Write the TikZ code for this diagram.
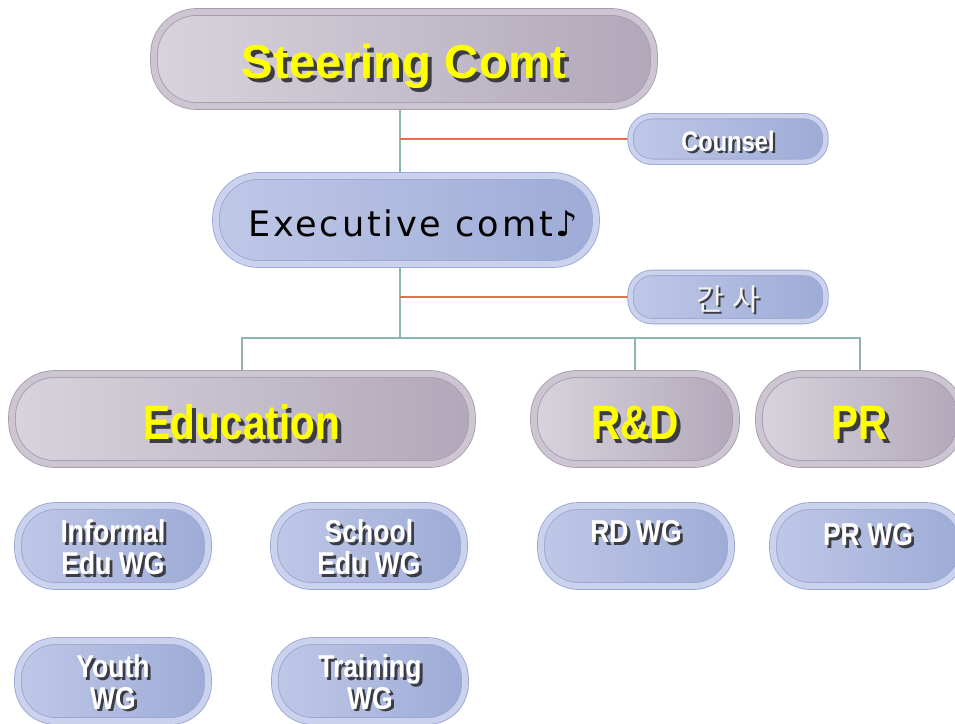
\documentclass[tikz,border=0pt]{standalone}
\usepackage{fontspec}
\setmainfont{Liberation Sans}
\newfontfamily\narrowfont[FakeStretch=0.84]{Liberation Sans}
\newfontfamily\execfont[LetterSpace=8]{DejaVu Sans}
\newfontfamily\krfont[LetterSpace=6]{Noto Sans CJK KR}
\usetikzlibrary{backgrounds}

\definecolor{graylt}{HTML}{D8D3DC}
\definecolor{graydk}{HTML}{B1A8B9}
\definecolor{grayrim}{HTML}{CDC6D2}
\definecolor{grayedge}{HTML}{A69DAE}
\definecolor{bluelt}{HTML}{BFC8E7}
\definecolor{bluedk}{HTML}{9DABD6}
\definecolor{bluerim}{HTML}{CAD2EE}
\definecolor{blueedge}{HTML}{9AA7D3}
\definecolor{tealline}{HTML}{8DB5B1}
\definecolor{redline}{HTML}{E0704F}
\definecolor{txtshadow}{HTML}{3C3C44}
\definecolor{titleyellow}{HTML}{FFFF00}

\newcommand{\shtxt}[2][1.6pt]{%
  \raisebox{-4pt}[\height][\depth]{\makebox[0pt][l]{\hspace{#1}\raisebox{-#1}{\color{txtshadow}\begin{tabular}{@{}c@{}}#2\end{tabular}}}%
  \begin{tabular}{@{}c@{}}#2\end{tabular}}}
\newcommand{\nudge}[2]{\raisebox{#1}[\height][\depth]{#2}}

\tikzset{
  grayunit/.style={rectangle, rounded corners=0.85cm, left color=graylt, right color=graydk,
    draw=grayedge, double=grayrim, double distance=3.4pt, line width=0.5pt,
    minimum height=1.8cm, text=titleyellow, font=\narrowfont\bfseries\fontsize{27.5}{30}\selectfont},
  blueunit/.style={rectangle, rounded corners=0.75cm, left color=bluelt, right color=bluedk,
    draw=blueedge, double=bluerim, double distance=3.4pt, line width=0.5pt,
    minimum width=3.8cm, minimum height=1.6cm, text=white,
    font=\narrowfont\bfseries\fontsize{18}{17.5}\selectfont},
  sideunit/.style={blueunit, rounded corners=0.43cm, double distance=2.6pt,
    minimum width=3.9cm, minimum height=0.86cm},
  branch/.style={draw=tealline, line width=0.9pt},
  staffline/.style={draw=redline, line width=0.9pt}
}

\begin{document}
\begin{tikzpicture}[x=0.02cm, y=-0.02cm]
\useasboundingbox (0,0) rectangle (955,723);

\node[grayunit, minimum width=10cm, minimum height=1.88cm,
  font=\bfseries\fontsize{27}{30}\selectfont] (steer) at (404,59) {\nudge{-2pt}{\shtxt[2.2pt]{Steering Comt}}};
\node[blueunit, minimum width=7.6cm, minimum height=1.76cm, rounded corners=0.85cm,
  text=black, font=\execfont\fontsize{20}{22}\selectfont] (exec) at (406,220) {\nudge{-2pt}{\hspace{8pt}Executive comt♪}};
\node[sideunit, font=\narrowfont\bfseries\fontsize{16}{18}\selectfont] (counsel) at (728,139) {\shtxt[1.3pt]{Counsel}};
\node[sideunit, text=white!95!black, font=\krfont\fontsize{17}{18}\selectfont] (gansa) at (728,297) {\shtxt[1.3pt]{간 사}};

\node[grayunit, minimum width=9.2cm] (edu) at (242,419) {\nudge{-3pt}{\shtxt[2.2pt]{Education}}};
\node[grayunit, minimum width=4.04cm] (rnd) at (635,419) {\nudge{-3pt}{\shtxt[2.2pt]{R\&D}}};
\node[grayunit, minimum width=4.04cm] (pr) at (860,419) {\nudge{-3pt}{\shtxt[2.2pt]{PR}}};

\node[blueunit] (informal) at (113,546) {\shtxt{Informal\\Edu WG}};
\node[blueunit] (school) at (369,546) {\shtxt{School\\Edu WG}};
\node[blueunit] (rdwg) at (636,546) {\shtxt{RD WG\\ \strut}};
\node[blueunit] (prwg) at (868,546) {\nudge{7pt}{\shtxt{PR WG}}};
\node[blueunit] (youth) at (113,681) {\shtxt{Youth\\WG}};
\node[blueunit] (training) at (370,681) {\shtxt{Training\\WG}};

\coordinate (hub) at (400,338);

\begin{scope}[on background layer]
\fill[white] (0,0) rectangle (955,723);
\draw[branch] (steer.south -| hub) -- (exec.north -| hub);
\draw[branch] (exec.south -| hub) -- (hub);
\draw[staffline] (counsel.west) -- (counsel.west -| hub);
\draw[staffline] (gansa.west) -- (gansa.west -| hub);
\draw[branch] (edu.north) -- (edu.north |- hub) -- (pr.north |- hub) -- (pr.north);
\draw[branch] (rnd.north |- hub) -- (rnd.north);
\end{scope}
\end{tikzpicture}
\end{document}
